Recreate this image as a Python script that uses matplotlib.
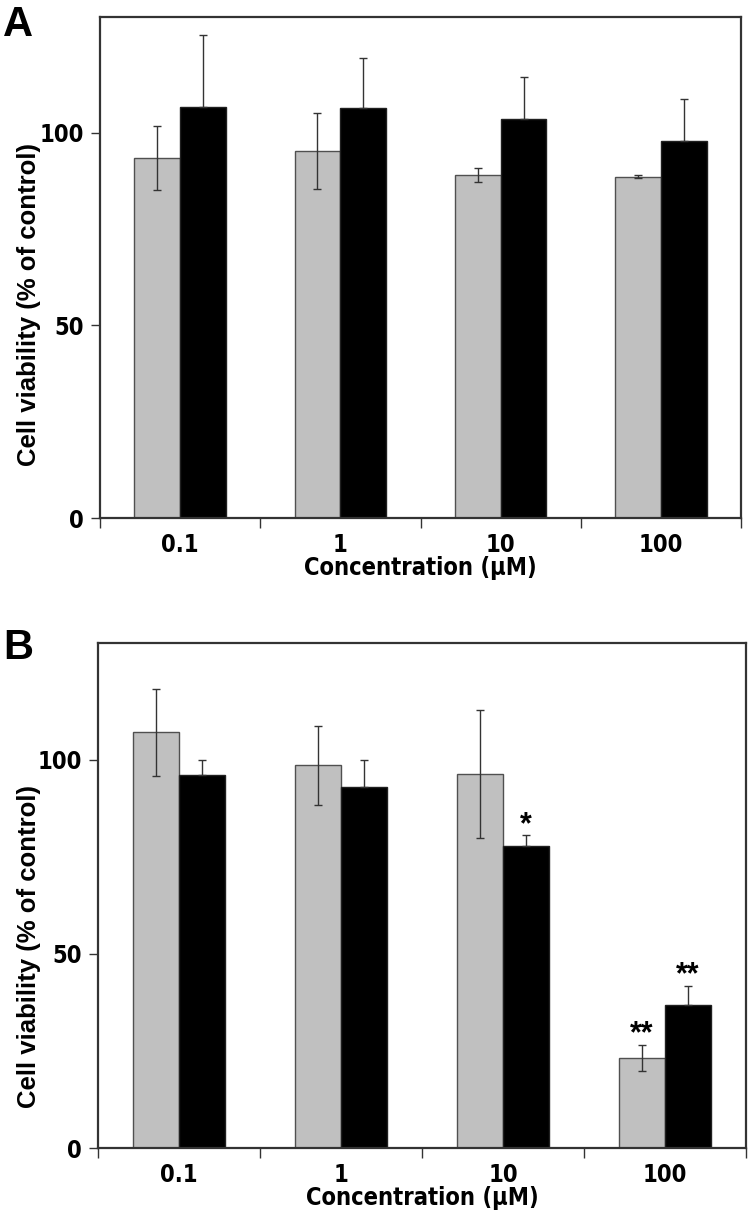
import matplotlib
matplotlib.use('Agg')
import matplotlib.pyplot as plt
from matplotlib import font_manager
import numpy as np

# Dados (viabilidade celular, % do controle)
concentrations = ['0.1', '1', '10', '100']

a_gray = [93.4, 95.2, 89.0, 88.6]
a_gray_err = [8.3, 9.9, 1.9, 0.3]
a_black = [106.7, 106.4, 103.6, 97.9]
a_black_err = [18.7, 12.9, 10.8, 10.8]

b_gray = [107.0, 98.5, 96.2, 23.2]
b_gray_err = [11.2, 10.2, 16.5, 3.4]
b_black = [96.0, 92.9, 77.7, 36.8]
b_black_err = [3.8, 7.1, 2.8, 4.9]

b_gray_marks = ['', '', '', '**']
b_black_marks = ['', '', '*', '**']

plain = ['Liberation Sans', 'DejaVu Sans']
# fonte estreita para os números e o rótulo do eixo x
narrow = font_manager.FontProperties(family='DejaVu Sans', stretch='condensed', weight='bold')

fig = plt.figure(figsize=(7.48, 12.16), dpi=100)


def draw_panel(ax, gray, gray_err, black, black_err, gray_marks=None, black_marks=None):
    x = np.arange(len(concentrations))
    w = 0.286
    ax.bar(x - w / 2, gray, w, color='#c0c0c0', edgecolor='#505050', linewidth=1, zorder=2)
    ax.bar(x + w / 2, black, w, color='black', edgecolor='#202020', linewidth=1, zorder=2)
    ax.errorbar(x - w / 2, gray, yerr=gray_err, fmt='none', ecolor='#333333',
                elinewidth=1, capsize=3, capthick=1, zorder=3)
    ax.errorbar(x + w / 2, black, yerr=[[0] * len(black), black_err], fmt='none',
                ecolor='#333333', elinewidth=1, capsize=3, capthick=1, zorder=3)

    # asteriscos de significância
    if gray_marks:
        for xi, v, e, m in zip(x - w / 2, gray, gray_err, gray_marks):
            if m:
                ax.text(xi, v + e - 1.2, m, ha='center', va='bottom', fontsize=22,
                        fontweight='bold', family=plain)
    if black_marks:
        for xi, v, e, m in zip(x + w / 2, black, black_err, black_marks):
            if m:
                ax.text(xi, v + e - 1.2, m, ha='center', va='bottom', fontsize=22,
                        fontweight='bold', family=plain)

    ax.set_xlim(-0.5, len(concentrations) - 0.5)
    ax.set_ylim(0, 130)
    ax.set_yticks([0, 50, 100])

    # marcas nas fronteiras, rótulos no centro
    ax.set_xticks(np.arange(len(concentrations) + 1) - 0.5)
    ax.set_xticklabels([])
    ax.set_xticks(x, minor=True)
    ax.set_xticklabels(concentrations, minor=True)
    ax.tick_params(axis='x', which='major', direction='out', length=7, width=1, color='#333333')
    ax.tick_params(axis='x', which='minor', length=0, pad=11)
    ax.tick_params(axis='y', direction='out', length=6.5, width=1, color='#333333', pad=5)
    for lab in ax.get_xticklabels(minor=True) + ax.get_yticklabels():
        lab.set_fontproperties(narrow)
        lab.set_fontsize(17)

    for s in ax.spines.values():
        s.set_linewidth(1.6)
        s.set_color('#333333')

    ax.set_xlabel('Concentration (μM)', fontproperties=narrow, fontsize=17, labelpad=-1)
    ax.set_ylabel('Cell viability (% of control)', fontsize=18.5, fontweight='bold', family=plain)


ax_a = fig.add_axes([100 / 748, 1 - 518 / 1216, 641 / 748, 501 / 1216])
draw_panel(ax_a, a_gray, a_gray_err, a_black, a_black_err)
ax_a.yaxis.set_label_coords(-0.092, 0.427)

ax_b = fig.add_axes([98 / 748, 1 - 1148 / 1216, 648 / 748, 505 / 1216])
draw_panel(ax_b, b_gray, b_gray_err, b_black, b_black_err, b_gray_marks, b_black_marks)
ax_b.yaxis.set_label_coords(-0.088, 0.40)

fig.text(0.004, 1 - 5 / 1216, 'A', fontsize=30, fontweight='bold', family=plain, va='top')
fig.text(0.004, 1 - 628 / 1216, 'B', fontsize=30, fontweight='bold', family=plain, va='top')

plt.savefig('out.png', dpi=100)
